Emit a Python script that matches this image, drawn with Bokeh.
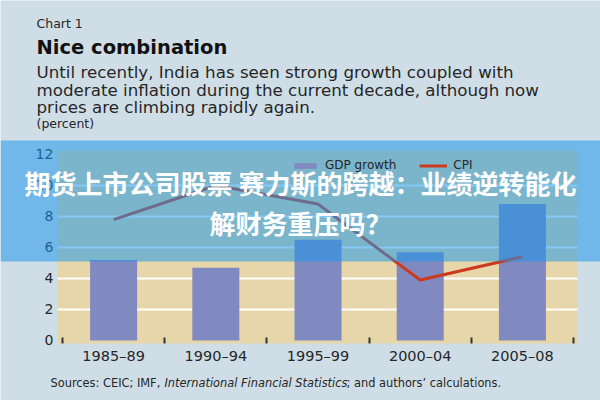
from bokeh.plotting import figure
from bokeh.models import (Range1d, FixedTicker, Label, BoxAnnotation, Legend,
                          LegendItem, ColumnDataSource)
from bokeh.embed import file_html
from bokeh.resources import INLINE

# ---- data ----
periods = ["1985–89", "1990–94", "1995–99", "2000–04", "2005–08"]
gdp_growth = [5.2, 4.7, 6.5, 5.7, 8.8]
cpi = [7.8, 10.0, 8.8, 3.9, 5.4]
y_ticks = [0, 2, 4, 6, 8, 10, 12]
grid_ticks = [2, 4, 6, 8, 10]

title_small = "Chart 1"
title_main = "Nice combination"
subtitle_lines = [
    "Until recently, India has seen strong growth coupled with",
    "moderate inflation during the current decade, although now",
    "prices are climbing rapidly again.",
]
unit_text = "(percent)"
source_parts = ["Sources: CEIC; IMF, ", "International Financial Statistics",
                "; and authors’ calculations."]
overlay_lines = ["期货上市公司股票 赛力斯的跨越：业绩逆转能化", "解财务重压吗？"]

# ---- layout ----
W, H = 600, 400
N = len(periods)
# plot-area extent in data units, and full-canvas ranges
AREA_X = (-0.05, N + 0.04)
AREA_Y = (-0.19, 12.26)
X_RANGE = (-0.607, N + 0.264)
Y_RANGE = (-3.871, 21.935)

FONT = "DejaVu Sans"
CJK = "Noto Sans CJK SC"
OUTER = "#cfdee6"
PLOT_BG = "#e6d6a9"
BAR = "#8089c0"
LINE = "#cc3a1e"
TXT = "#262626"

centers = [i + 0.5 for i in range(N)]
source = ColumnDataSource(dict(x=centers, gdp=gdp_growth, cpi=cpi))

p = figure(width=W, height=H, output_backend="svg", toolbar_location=None,
           x_range=Range1d(*X_RANGE), y_range=Range1d(*Y_RANGE),
           min_border=0)
p.min_border_left = p.min_border_right = p.min_border_top = p.min_border_bottom = 0
p.border_fill_color = OUTER
p.background_fill_color = OUTER
p.outline_line_color = None

# plot area background
p.add_layout(BoxAnnotation(left=AREA_X[0], right=AREA_X[1],
                           bottom=AREA_Y[0], top=AREA_Y[1],
                           fill_color=PLOT_BG, fill_alpha=1, line_color=None,
                           level="image"))

bars = p.vbar(x="x", top="gdp", bottom=0, width=0.46, source=source,
              fill_color=BAR, line_color=None)
line = p.line(x="x", y="cpi", source=source, line_color=LINE, line_width=3)

# axes (fixed inside the canvas)
xa = p.xaxis[0]
xa.fixed_location = AREA_Y[0]
xa.ticker = FixedTicker(ticks=centers, minor_ticks=list(range(N + 1)))
xa.major_label_overrides = {c: lab for c, lab in zip(centers, periods)}
xa.major_tick_line_color = None
xa.major_tick_in = 0
xa.major_tick_out = 0
xa.minor_tick_line_color = "#333333"
xa.minor_tick_line_width = 2
xa.minor_tick_in = 6
xa.minor_tick_out = 0
xa.axis_line_color = None
xa.major_label_text_font = FONT
xa.major_label_text_font_size = "14.5px"
xa.major_label_text_color = TXT
xa.major_label_standoff = 5

ya = p.yaxis[0]
ya.fixed_location = AREA_X[0]
ya.ticker = FixedTicker(ticks=y_ticks)
ya.major_tick_line_color = None
ya.minor_tick_line_color = None
ya.major_tick_in = 0
ya.major_tick_out = 0
ya.axis_line_color = None
ya.major_label_text_font = FONT
ya.major_label_text_font_size = "14px"
ya.major_label_text_color = TXT
ya.major_label_standoff = 4

p.xgrid.grid_line_color = None
yg = p.ygrid[0]
yg.ticker = FixedTicker(ticks=grid_ticks)
yg.grid_line_color = "white"
yg.grid_line_width = 2
if "cross_bounds" in yg.properties():
    yg.cross_bounds = AREA_X
else:
    yg.grid_line_color = None
    p.segment(x0=[AREA_X[0]] * len(grid_ticks), x1=[AREA_X[1]] * len(grid_ticks),
              y0=grid_ticks, y1=grid_ticks, line_color="white", line_width=2,
              level="underlay")

# legend
legend = Legend(items=[LegendItem(label="GDP growth", renderers=[bars]),
                       LegendItem(label="CPI", renderers=[line])],
                location=(291, 228), orientation="horizontal",
                glyph_width=28, glyph_height=7, label_height=7,
                label_standoff=6, spacing=23, padding=0, margin=0,
                background_fill_alpha=0, border_line_color=None,
                label_text_font=FONT, label_text_font_size="12px",
                label_text_color=TXT)
p.add_layout(legend)

# texts (canvas px, y measured from top)
def add_text(text, cx, cy, size, style="normal", color=TXT, font=FONT,
             align="left", level="annotation"):
    lab = Label(x=cx, y=H - cy, x_units="screen", y_units="screen",
                text=text, text_font=font, text_font_size=size,
                text_font_style=style, text_color=color, text_align=align,
                text_baseline="middle", level=level)
    p.add_layout(lab)
    return lab

add_text(title_small, 36, 22.5, "12.5px")
add_text(title_main, 36, 46.5, "19.5px", style="bold", color="#111111")
for i, s in enumerate(subtitle_lines):
    add_text(s, 36, 71.5 + 17.5 * i, "16.7px")
add_text(unit_text, 36, 123, "12.5px")

src_x = [50, 164, 346]
src_style = ["normal", "italic", "normal"]
for s, cx, st in zip(source_parts, src_x, src_style):
    add_text(s, cx, 382, "11.4px", style=st)

# translucent banner on top
banner = BoxAnnotation(left=0, right=W, top=H - 140, bottom=H - 261,
                       left_units="screen", right_units="screen",
                       top_units="screen", bottom_units="screen",
                       fill_color="#1a97ec", fill_alpha=0.53, line_color=None,
                       level="overlay")
p.add_layout(banner)
for i, s in enumerate(overlay_lines):
    add_text(s, W / 2, 182 + 40 * i, "26px", style="bold", color="white",
             font=CJK, align="center", level="overlay")

open("out.html", "w").write(file_html(p, INLINE))
